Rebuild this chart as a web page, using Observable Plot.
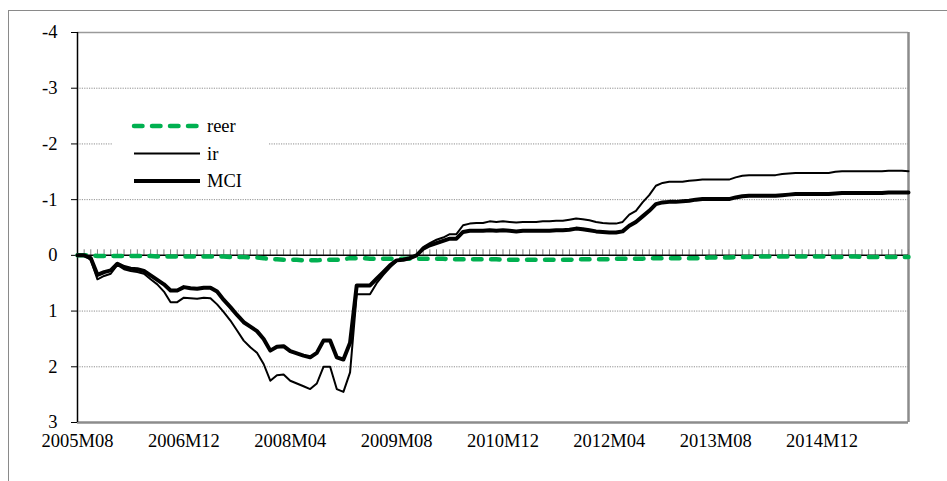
<!DOCTYPE html>
<html>
<head>
<meta charset="utf-8">
<script src="https://cdn.jsdelivr.net/npm/d3@7"></script>
<script src="https://cdn.jsdelivr.net/npm/@observablehq/plot@0.6"></script>
<style>
  html, body { margin: 0; padding: 0; background: #fff; }
  #wrap { position: relative; width: 947px; height: 481px; overflow: hidden; font-family: 'Liberation Serif', 'Times New Roman', Times, 'DejaVu Serif', serif; }
  #frame { position: absolute; left: 8px; top: 10px; width: 1200px; height: 1200px; border: 1px solid #8a8a8a; box-sizing: border-box; }
  #chart { position: absolute; left: 0; top: 0; }
  #legend { position: absolute; left: 112px; top: 108px; width: 156px; height: 88px; background: #fff; }
  #chart svg text, #legend svg text { font-family: 'Liberation Serif', 'Times New Roman', Times, 'DejaVu Serif', serif; }
</style>
</head>
<body>
<div id="wrap">
  <div id="frame"></div>
  <div id="chart"></div>
  <div id="legend"></div>
</div>
<script>
// ---- data (monthly, 2005M08 .. 2016M01; index = months since 2005M08) ----
const seriesNames = ["reer", "ir", "MCI"];
const tickIndex = [0, 16, 32, 48, 64, 80, 96, 112];
const tickLabels = ["2005M08", "2006M12", "2008M04", "2009M08", "2010M12", "2012M04", "2013M08", "2014M12"];
const yTicks = [-4, -3, -2, -1, 0, 1, 2, 3];

const reer = [
  0.00, 0.00, 0.00, 0.01, 0.01, 0.01, 0.01, 0.01, 0.01, 0.01,
  0.01, 0.01, 0.02, 0.02, 0.02, 0.02, 0.02, 0.02, 0.02, 0.02,
  0.02, 0.02, 0.02, 0.03, 0.03, 0.03, 0.04, 0.04, 0.05, 0.07,
  0.07, 0.08, 0.08, 0.08, 0.09, 0.09, 0.09, 0.08, 0.08, 0.08,
  0.07, 0.05, 0.05, 0.05, 0.06, 0.06, 0.06, 0.06, 0.06, 0.06,
  0.06, 0.06, 0.06, 0.06, 0.06, 0.06, 0.07, 0.07, 0.07, 0.07,
  0.07, 0.07, 0.07, 0.07, 0.08, 0.08, 0.08, 0.08, 0.08, 0.08,
  0.08, 0.08, 0.08, 0.08, 0.08, 0.07, 0.07, 0.07, 0.07, 0.07,
  0.07, 0.06, 0.06, 0.06, 0.06, 0.06, 0.05, 0.05, 0.05, 0.05,
  0.05, 0.05, 0.05, 0.05, 0.05, 0.04, 0.04, 0.04, 0.04, 0.03,
  0.03, 0.03, 0.02, 0.02, 0.02, 0.02, 0.02, 0.02, 0.02, 0.02,
  0.02, 0.02, 0.02, 0.03, 0.03, 0.03, 0.02, 0.02, 0.03, 0.03,
  0.03, 0.03, 0.03, 0.03, 0.03, 0.03
];
const ir = [
  0.00, 0.00, 0.08, 0.43, 0.37, 0.33, 0.17, 0.25, 0.28, 0.30,
  0.33, 0.43, 0.52, 0.65, 0.84, 0.84, 0.76, 0.77, 0.78, 0.76,
  0.77, 0.88, 1.02, 1.17, 1.35, 1.53, 1.65, 1.75, 1.95, 2.25,
  2.15, 2.14, 2.25, 2.30, 2.35, 2.40, 2.30, 2.00, 2.00, 2.40,
  2.45, 2.10, 0.70, 0.70, 0.70, 0.50, 0.35, 0.22, 0.10, 0.08,
  0.05, 0.00, -0.15, -0.22, -0.28, -0.32, -0.38, -0.38, -0.54, -0.57,
  -0.58, -0.58, -0.61, -0.60, -0.61, -0.60, -0.59, -0.60, -0.60, -0.60,
  -0.61, -0.61, -0.62, -0.62, -0.64, -0.66, -0.65, -0.63, -0.60, -0.58,
  -0.57, -0.57, -0.60, -0.73, -0.80, -0.95, -1.08, -1.25, -1.30, -1.32,
  -1.32, -1.32, -1.34, -1.35, -1.36, -1.36, -1.36, -1.36, -1.36, -1.40,
  -1.43, -1.44, -1.44, -1.44, -1.44, -1.44, -1.46, -1.47, -1.48, -1.48,
  -1.48, -1.48, -1.48, -1.48, -1.50, -1.51, -1.51, -1.51, -1.51, -1.51,
  -1.51, -1.51, -1.52, -1.52, -1.52, -1.51
];
const mci = [
  0.00, 0.00, 0.05, 0.35, 0.30, 0.27, 0.15, 0.21, 0.24, 0.25,
  0.28, 0.36, 0.44, 0.52, 0.63, 0.63, 0.57, 0.59, 0.60, 0.58,
  0.58, 0.65, 0.80, 0.93, 1.07, 1.20, 1.28, 1.36, 1.50, 1.71,
  1.64, 1.63, 1.72, 1.76, 1.80, 1.83, 1.75, 1.53, 1.53, 1.83,
  1.87, 1.57, 0.54, 0.54, 0.54, 0.42, 0.30, 0.18, 0.09, 0.08,
  0.05, 0.00, -0.12, -0.18, -0.22, -0.26, -0.30, -0.30, -0.42, -0.44,
  -0.44, -0.44, -0.45, -0.44, -0.45, -0.44, -0.43, -0.44, -0.44, -0.44,
  -0.44, -0.44, -0.45, -0.45, -0.46, -0.48, -0.47, -0.45, -0.43, -0.42,
  -0.41, -0.41, -0.43, -0.53, -0.60, -0.70, -0.80, -0.92, -0.95, -0.96,
  -0.96, -0.97, -0.98, -1.00, -1.01, -1.01, -1.01, -1.01, -1.01, -1.04,
  -1.06, -1.07, -1.07, -1.07, -1.07, -1.07, -1.08, -1.09, -1.10, -1.10,
  -1.10, -1.10, -1.10, -1.10, -1.11, -1.12, -1.12, -1.12, -1.12, -1.12,
  -1.12, -1.12, -1.13, -1.13, -1.13, -1.13
];

const GREEN = "#00b050";
const FONT = "'Liberation Serif', 'Times New Roman', Times, 'DejaVu Serif', serif";
const months = d3.range(ir.length);
const rows = (arr) => arr.map((v, i) => ({i, v}));
const lastIdx = ir.length - 1;

const chart = Plot.plot({
  width: 947,
  height: 481,
  marginLeft: 77,
  marginRight: 39,
  marginTop: 32,
  marginBottom: 59,
  style: {fontFamily: FONT, fontSize: "18.5px", color: "#000", background: "transparent"},
  x: {domain: [0, lastIdx], label: null},
  y: {domain: [-4, 3], reverse: true, label: null},
  marks: [
    Plot.ruleY([-3, -2, -1, 1, 2], {stroke: "#8f8f8f", strokeWidth: 1, strokeDasharray: "1.2,1.2"}),
    Plot.ruleY([-4], {stroke: "#9a9a9a", strokeWidth: 1.5}),
    Plot.ruleY([3], {stroke: "#8c8c8c", strokeWidth: 2.5}),
    Plot.ruleX([lastIdx], {stroke: "#8c8c8c", strokeWidth: 2.5}),
    Plot.ruleX(months, {x: d => d, y1: 0, y2: -0.1, stroke: "#808080", strokeWidth: 1}),
    Plot.ruleY([0], {stroke: "#000", strokeWidth: 1.5}),
    Plot.ruleX([0], {stroke: "#000", strokeWidth: 1.5}),
    Plot.axisY({ticks: yTicks, tickFormat: d => String(d), tickSize: 6, tickPadding: 14, stroke: "#000", strokeWidth: 1, fontSize: 18.5, label: null}),
    Plot.axisX({ticks: tickIndex, tickFormat: (d) => tickLabels[tickIndex.indexOf(d)], tickSize: 0, tickPadding: 11, fontSize: 18.5, label: null}),
    Plot.line(rows(reer), {x: "i", y: "v", stroke: GREEN, strokeWidth: 4.5, strokeDasharray: "8.5,9.5", strokeLinecap: "round", strokeLinejoin: "round"}),
    Plot.line(rows(ir), {x: "i", y: "v", stroke: "#000", strokeWidth: 2, strokeLinejoin: "round"}),
    Plot.line(rows(mci), {x: "i", y: "v", stroke: "#000", strokeWidth: 4, strokeLinejoin: "round"})
  ]
});
document.getElementById("chart").appendChild(chart);

// ---- legend ----
const legendStyles = [
  {stroke: GREEN, width: 4.5, dash: "8.5,9.5"},
  {stroke: "#000", width: 2, dash: null},
  {stroke: "#000", width: 4, dash: null}
];
const lg = d3.select("#legend").append("svg").attr("width", 156).attr("height", 88);
seriesNames.forEach((name, k) => {
  const y = 18 + k * 27.5;
  const s = legendStyles[k];
  const ln = lg.append("line").attr("x1", 22).attr("x2", 88).attr("y1", y).attr("y2", y)
    .attr("stroke", s.stroke).attr("stroke-width", s.width);
  if (s.dash) ln.attr("stroke-dasharray", s.dash).attr("stroke-linecap", "round");
  lg.append("text").attr("x", 95).attr("y", y).attr("dy", "0.35em")
    .attr("font-family", FONT).attr("font-size", 18.5).attr("fill", "#000").text(name);
});
</script>
</body>
</html>
